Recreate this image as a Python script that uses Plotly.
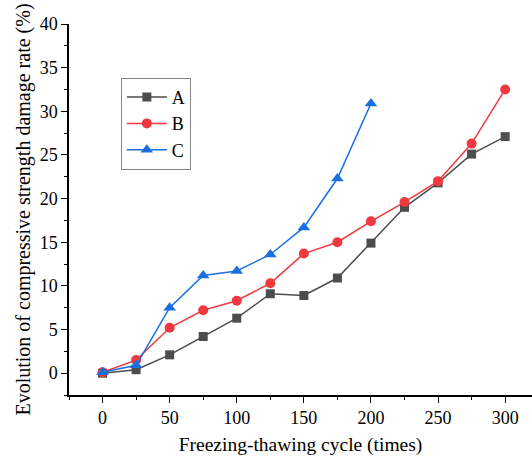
import plotly.graph_objects as go

cycles = [0, 25, 50, 75, 100, 125, 150, 175, 200, 225, 250, 275, 300]
a_vals = [0.0, 0.4, 2.1, 4.2, 6.3, 9.1, 8.9, 10.9, 14.9, 19.0, 21.8, 25.1, 27.1]
b_vals = [0.1, 1.5, 5.2, 7.2, 8.3, 10.3, 13.7, 15.0, 17.4, 19.6, 22.0, 26.3, 32.5]
c_cycles = [0, 25, 50, 75, 100, 125, 150, 175, 200]
c_vals = [0.1, 0.9, 7.5, 11.2, 11.7, 13.6, 16.7, 22.3, 30.9]

font = "Liberation Serif, Times New Roman, serif"

fig = go.Figure()
fig.add_trace(go.Scatter(x=cycles, y=a_vals, name="A", mode="lines+markers",
                         line=dict(color="#4d4d4d", width=1.5),
                         marker=dict(symbol="square", size=9, color="#4d4d4d")))
fig.add_trace(go.Scatter(x=cycles, y=b_vals, name="B", mode="lines+markers",
                         line=dict(color="#f0393f", width=1.5),
                         marker=dict(symbol="circle", size=10, color="#f0393f")))
fig.add_trace(go.Scatter(x=c_cycles, y=c_vals, name="C", mode="lines+markers",
                         line=dict(color="#1a6fe0", width=1.5),
                         marker=dict(symbol="triangle-up", size=11, color="#1a6fe0")))

fig.update_layout(
    width=532, height=459,
    margin=dict(l=69, r=0, t=24, b=64),
    paper_bgcolor="white", plot_bgcolor="white",
    font=dict(family=font, size=18, color="black"),
    showlegend=True,
    legend=dict(x=0.112, y=0.855, xanchor="left", yanchor="top",
                bordercolor="#888888", borderwidth=1, bgcolor="white",
                font=dict(size=18), itemwidth=40, tracegroupgap=0),
    xaxis=dict(range=[-25, 320], tickmode="array", tickvals=[0, 50, 100, 150, 200, 250, 300],
               showgrid=False, zeroline=False, showline=True, linecolor="black", linewidth=1.5,
               ticks="outside", ticklen=6, tickwidth=1.2, tickcolor="black",
               minor=dict(ticks="outside", ticklen=3, tickwidth=1, tickcolor="black", dtick=25, tick0=0),
               title=dict(text="Freezing-thawing cycle (times)", font=dict(size=19.5), standoff=10),
               tickfont=dict(size=18)),
    yaxis=dict(range=[-2.5, 40], tickmode="array", tickvals=[0, 5, 10, 15, 20, 25, 30, 35, 40],
               showgrid=False, zeroline=False, showline=True, linecolor="black", linewidth=1.5,
               ticks="outside", ticklen=6, tickwidth=1.2, tickcolor="black",
               minor=dict(ticks="outside", ticklen=3, tickwidth=1, tickcolor="black", dtick=2.5, tick0=0),
               title=dict(text="Evolution of compressive strength damage rate (%)", font=dict(size=20), standoff=4),
               tickfont=dict(size=18)),
)

fig.write_html("out.html")
